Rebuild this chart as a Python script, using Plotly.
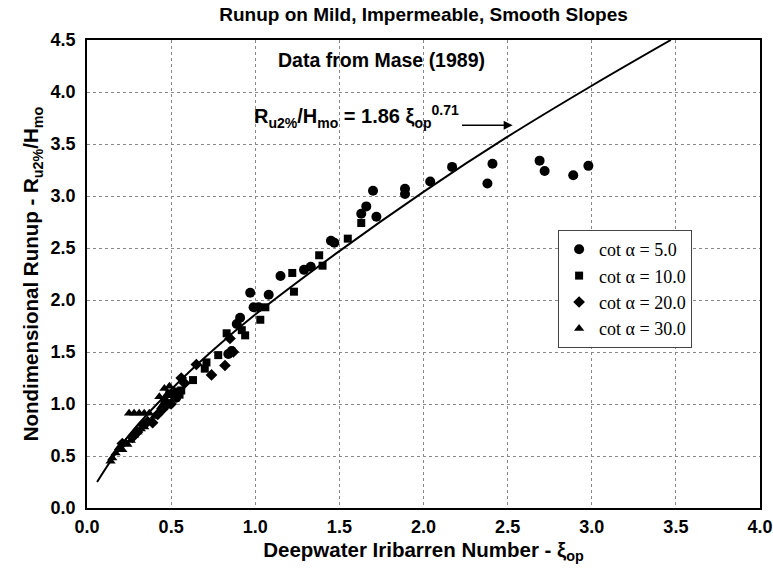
import plotly.graph_objects as go

# Mase (1989) runup data
circle_x = [0.48, 0.53, 0.84, 0.86, 0.89, 0.91, 0.97, 0.99, 1.02, 1.08, 1.15, 1.29, 1.33, 1.45, 1.47,
            1.63, 1.66, 1.70, 1.72, 1.89, 1.89, 2.04, 2.17, 2.38, 2.41, 2.69, 2.72, 2.89, 2.98]
circle_y = [1.00, 1.06, 1.48, 1.51, 1.77, 1.83, 2.07, 1.93, 1.93, 2.05, 2.23, 2.29, 2.32, 2.57, 2.55,
            2.83, 2.90, 3.05, 2.80, 3.07, 3.02, 3.14, 3.28, 3.12, 3.31, 3.34, 3.24, 3.20, 3.29]

square_x = [0.46, 0.49, 0.54, 0.55, 0.56, 0.63, 0.70, 0.71, 0.78, 0.83, 0.92, 0.94, 1.03, 1.06,
            1.22, 1.23, 1.38, 1.40, 1.55, 1.63]
square_y = [1.02, 1.10, 1.12, 1.09, 1.13, 1.23, 1.34, 1.40, 1.47, 1.68, 1.71, 1.66, 1.81, 1.93,
            2.26, 2.08, 2.43, 2.33, 2.59, 2.74]

diamond_x = [0.21, 0.27, 0.30, 0.33, 0.36, 0.39, 0.42, 0.45, 0.50, 0.56, 0.58, 0.65, 0.74, 0.82, 0.85, 0.87]
diamond_y = [0.62, 0.68, 0.73, 0.80, 0.83, 0.82, 0.90, 0.95, 1.00, 1.25, 1.20, 1.38, 1.28, 1.37, 1.63, 1.50]

triangle_x = [0.14, 0.15, 0.17, 0.19, 0.21, 0.23, 0.24, 0.26, 0.28, 0.30, 0.32, 0.34, 0.40,
              0.25, 0.28, 0.31, 0.34, 0.37, 0.43, 0.44, 0.46, 0.47, 0.49, 0.50, 0.51, 0.52]
triangle_y = [0.45, 0.48, 0.53, 0.58, 0.56, 0.63, 0.61, 0.65, 0.70, 0.73, 0.76, 0.78, 0.88,
              0.91, 0.91, 0.91, 0.91, 0.91, 1.07, 0.97, 1.15, 1.08, 1.17, 1.10, 1.04, 1.12]

# fitted curve R/H = 1.86 xi^0.71
fit_x = [0.06, 0.25, 0.5, 0.75, 1.0, 1.5, 2.0, 2.5, 3.0, 3.47]
fit_y = [0.25, 0.70, 1.14, 1.52, 1.86, 2.47, 3.04, 3.57, 4.06, 4.50]

FONT = 'Liberation Sans'
SERIF = 'Liberation Serif'

fig = go.Figure()

fig.add_trace(go.Scatter(x=fit_x, y=fit_y, mode='lines', line=dict(color='black', width=2, shape='spline'),
                         showlegend=False, hoverinfo='skip'))

series = [
    ('cot α = 5.0', circle_x, circle_y, 'circle', 10),
    ('cot α = 10.0', square_x, square_y, 'square', 8),
    ('cot α = 20.0', diamond_x, diamond_y, 'diamond', 9),
    ('cot α = 30.0', triangle_x, triangle_y, 'triangle-up', 9),
]
for name, xs, ys, sym, sz in series:
    fig.add_trace(go.Scatter(
        x=xs, y=ys, mode='markers', name=name,
        marker=dict(symbol=sym, size=sz, color='black', line=dict(width=0)),
    ))

axis_common = dict(
    showgrid=True, gridcolor='#888888', griddash='dot', gridwidth=1,
    zeroline=False, showline=True, mirror=True, linecolor='black', linewidth=1.5,
    ticks='', tickformat='.1f', dtick=0.5, automargin=False,
    ticklabeloverflow='allow',
    tickfont=dict(family=FONT, size=18, color='black', weight='bold'),
)

fig.update_layout(
    width=773, height=580,
    paper_bgcolor='white', plot_bgcolor='white',
    margin=dict(l=87, r=13, t=40, b=72),
    title=dict(text='<b>Runup on Mild, Impermeable, Smooth Slopes</b>',
               font=dict(family=FONT, size=19, color='black'),
               x=0.5, xref='paper', xanchor='center', y=0.975, yanchor='middle'),
    xaxis=dict(range=[0, 4.0], tick0=0, ticklabelstandoff=2,
               title=dict(text='<b>Deepwater Iribarren Number - ξ<sub>op</sub></b>',
                          font=dict(family=FONT, size=20.5, color='black'), standoff=6),
               **axis_common),
    yaxis=dict(range=[0, 4.5], tick0=0, ticklabelstandoff=6,
               title=dict(text='<b>Nondimensional Runup - R<sub>u2%</sub>/H<sub>mo</sub></b>',
                          font=dict(family=FONT, size=20.5, color='black'), standoff=6),
               **axis_common),
    legend=dict(x=0.70, y=0.594, xanchor='left', yanchor='top',
                bgcolor='white', bordercolor='#444444', borderwidth=1,
                font=dict(family=SERIF, size=18, color='black'),
                itemsizing='trace'),
    showlegend=True,
)

fig.add_annotation(x=1.75, y=4.31, xref='x', yref='y', showarrow=False,
                   text='<b>Data from Mase (1989)</b>',
                   font=dict(family=FONT, size=19.5, color='black'))
fig.add_annotation(x=1.6, y=3.76, xref='x', yref='y', showarrow=False,
                   text='<b>R<sub>u2%</sub>/H<sub>mo</sub> = 1.86 ξ<sub>op</sub><sup>0.71</sup></b>',
                   font=dict(family=FONT, size=20, color='black'))
fig.add_annotation(x=2.53, y=3.68, ax=2.22, ay=3.68, xref='x', yref='y', axref='x', ayref='y',
                   text='', showarrow=True, arrowhead=2, arrowsize=1.2, arrowwidth=1.5,
                   arrowcolor='black')

# page body has an 8px default margin; drop it so the figure sits at the window origin
fig.write_html('out.html', config={'displayModeBar': False},
               post_script="document.body.style.margin='0';")
